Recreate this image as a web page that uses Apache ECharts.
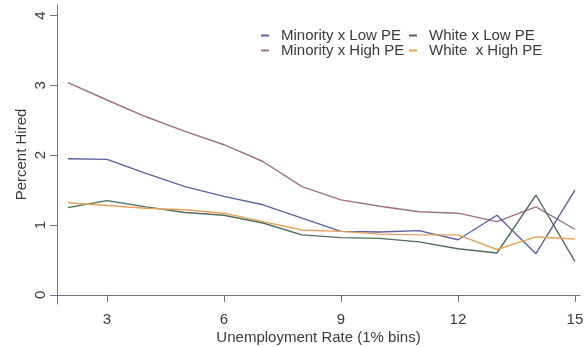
<!DOCTYPE html>
<html>
<head>
<meta charset="utf-8">
<script src="https://cdn.jsdelivr.net/npm/echarts@6/dist/echarts.min.js"></script>
<style>
    html, body { margin: 0; padding: 0; background: #fff; }
    #chart { width: 587px; height: 347px; }
</style>
</head>
<body>
<div id="chart"></div>
<script>
// 失业率分箱 (1% bins)
const rates = [2, 3, 4, 5, 6, 7, 8, 9, 10, 11, 12, 13, 14, 15]
const minorityLow = [1.95, 1.94, 1.74, 1.55, 1.41, 1.29, 1.10, 0.91, 0.90, 0.92, 0.79, 1.14, 0.59, 1.50]
const whiteLow = [1.25, 1.35, 1.26, 1.18, 1.14, 1.03, 0.86, 0.82, 0.81, 0.76, 0.66, 0.60, 1.43, 0.48]
const minorityHigh = [3.04, 2.79, 2.55, 2.34, 2.15, 1.91, 1.55, 1.36, 1.27, 1.19, 1.17, 1.05, 1.26, 0.94]
const whiteHigh = [1.32, 1.28, 1.24, 1.22, 1.17, 1.05, 0.93, 0.91, 0.87, 0.86, 0.86, 0.65, 0.83, 0.80]
const xTicks = [3, 6, 9, 12, 15]
const yTicks = [0, 1, 2, 3, 4]

const font = 'Liberation Sans, Arial, sans-serif'
const textColor = '#3a3a3a'

function pairs (ys) {
    return rates.map((x, i) => [x, ys[i]])
}

function line (name, ys, color) {
    return {
        name: name,
        type: 'line',
        data: pairs(ys),
        symbol: 'none',
        color: color,
        lineStyle: { width: 1.4, color: color }
    }
}

const legendBase = {
    orient: 'vertical',
    top: 28,
    padding: 0,
    icon: 'rect',
    itemWidth: 8,
    itemHeight: 2,
    itemGap: 0,
    textStyle: { fontSize: 15, fontFamily: font, color: textColor, padding: [0, 0, 0, 7] }
}

let myChart = echarts.init(document.getElementById('chart'))
myChart.setOption({
    animation: false,
    backgroundColor: '#fff',
    grid: { left: 57, right: 7, top: 5, bottom: 43, containLabel: false, outerBoundsMode: 'none' },
    legend: [
        Object.assign({}, legendBase, { left: 261, data: ['Minority x Low PE', 'Minority x High PE'] }),
        Object.assign({}, legendBase, { left: 409, data: ['White x Low PE', 'White  x High PE'] })
    ],
    xAxis: {
        type: 'value',
        min: 1.718,
        max: 15.13,
        name: 'Unemployment Rate (1% bins)',
        nameLocation: 'middle',
        nameGap: 26,
        nameMoveOverlap: false,
        nameTextStyle: { fontSize: 15, fontFamily: font, color: textColor },
        axisLine: { lineStyle: { color: '#6e7080', width: 1 } },
        axisTick: { customValues: xTicks, length: 7, lineStyle: { color: '#6e7080' } },
        axisLabel: { customValues: xTicks, margin: 8, fontSize: 15, fontFamily: font, color: textColor },
        splitLine: { show: false }
    },
    yAxis: {
        type: 'value',
        min: -0.13,
        max: 4.15,
        name: 'Percent Hired',
        nameLocation: 'middle',
        nameGap: 28,
        nameMoveOverlap: false,
        nameRotate: 90,
        nameTextStyle: { fontSize: 15, fontFamily: font, color: textColor },
        axisLine: { show: true, lineStyle: { color: '#6e7390', width: 1 } },
        axisTick: { show: true, customValues: yTicks, length: 7, lineStyle: { color: '#6e7390' } },
        axisLabel: { customValues: yTicks, rotate: 90, margin: 9, fontSize: 15, fontFamily: font, color: textColor },
        splitLine: { show: false }
    },
    series: [
        line('Minority x High PE', minorityHigh, '#9c7282'),
        line('Minority x Low PE', minorityLow, '#5b62a0'),
        line('White x Low PE', whiteLow, '#4f6a5e'),
        line('White  x High PE', whiteHigh, '#e5a05c')
    ]
})
window.addEventListener('resize', function () {
    myChart.resize()
})
</script>
</body>
</html>
